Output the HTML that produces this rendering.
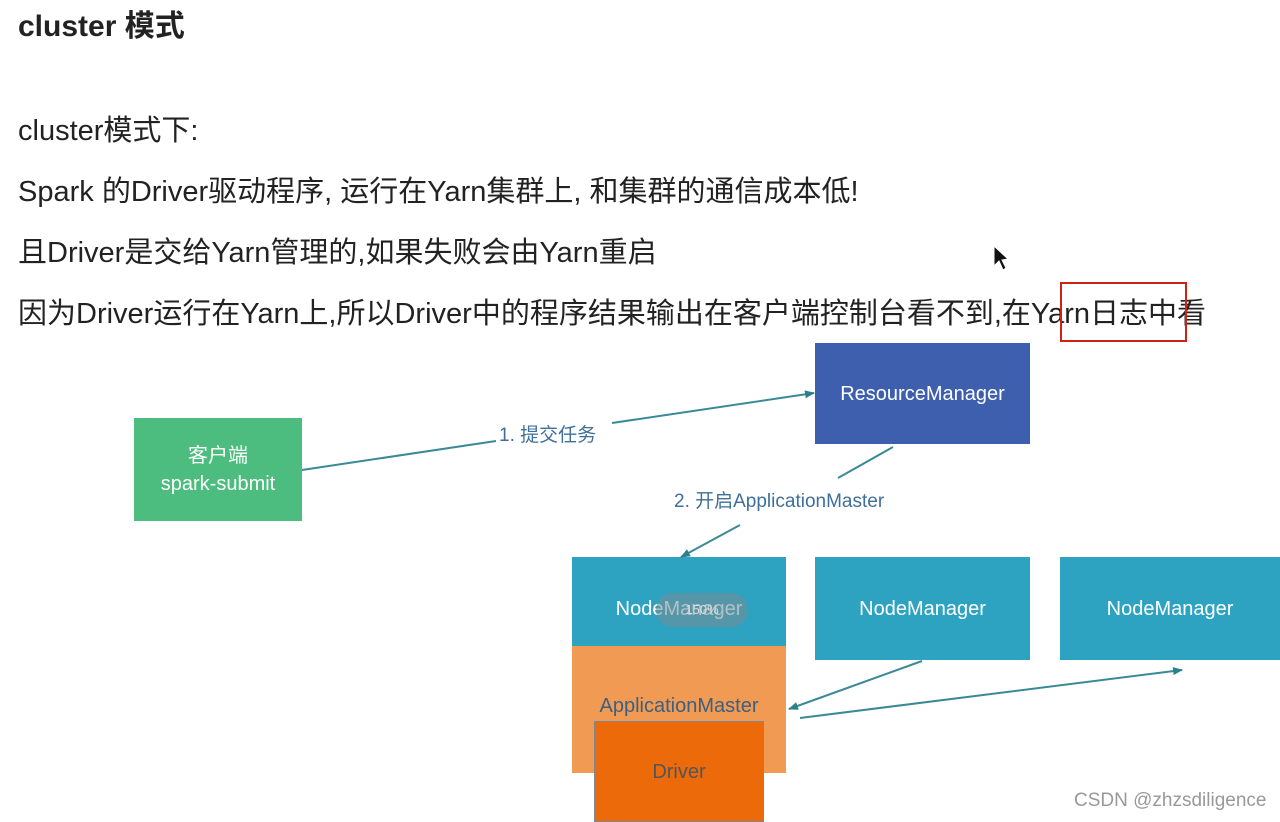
<!DOCTYPE html>
<html><head><meta charset="utf-8"><style>
html,body{margin:0;padding:0;background:#fff;}
body{width:1280px;height:822px;position:relative;overflow:hidden;font-family:"Liberation Sans","Noto Sans CJK SC",sans-serif;color:#222;}
.t{position:absolute;left:18px;white-space:nowrap;font-size:29px;line-height:34px;}
.b{position:absolute;display:flex;align-items:center;justify-content:center;text-align:center;color:#fff;font-size:20px;line-height:28px;}
.lbl{position:absolute;color:#3f6f9a;font-size:19px;white-space:nowrap;}
</style></head><body>
<div class="t" style="top:10px;font-weight:bold;font-size:30px;">cluster 模式</div>
<div class="t" style="top:114px;">cluster模式下:</div>
<div class="t" style="top:175px;">Spark 的Driver驱动程序, 运行在Yarn集群上, 和集群的通信成本低!</div>
<div class="t" style="top:236px;">且Driver是交给Yarn管理的,如果失败会由Yarn重启</div>
<div class="t" style="top:297px;">因为Driver运行在Yarn上,所以Driver中的程序结果输出在客户端控制台看不到,在Yarn日志中看</div>
<div style="position:absolute;left:1060px;top:282px;width:123px;height:56px;border:2px solid #d0201a;"></div>

<div class="b" style="left:134px;top:418px;width:168px;height:103px;background:#4cbd7e;">客户端<br>spark-submit</div>
<div class="b" style="left:815px;top:343px;width:215px;height:101px;background:#3e5fae;">ResourceManager</div>
<div class="b" style="left:572px;top:557px;width:214px;height:103px;background:#2ea3c1;">NodeManager</div>
<div style="position:absolute;left:656px;top:593px;width:92px;height:34px;border-radius:17px;background:rgba(120,140,150,0.55);color:#ddd;font-size:13px;line-height:34px;text-align:center;">150%</div>
<div class="b" style="left:815px;top:557px;width:215px;height:103px;background:#2ea3c1;">NodeManager</div>
<div class="b" style="left:1060px;top:557px;width:220px;height:103px;background:#2ea3c1;">NodeManager</div>
<div class="b" style="left:572px;top:646px;width:214px;height:127px;background:#f09a53;color:#3d5f80;align-items:flex-start;padding-top:0;"><span style="margin-top:46px">ApplicationMaster</span></div>
<div class="b" style="left:594px;top:721px;width:170px;height:101px;background:#ec6a0a;color:#555;border:1px solid #7a8a90;box-sizing:border-box;">Driver</div>

<svg width="1280" height="822" style="position:absolute;left:0;top:0" xmlns="http://www.w3.org/2000/svg">
<defs><marker id="a" markerWidth="10" markerHeight="8" refX="9" refY="4" orient="auto" markerUnits="userSpaceOnUse"><path d="M0,0 L10,4 L0,8 z" fill="#2d7f8a"/></marker></defs>
<g stroke="#3a8a96" stroke-width="2" fill="none">
<line x1="302" y1="470" x2="496" y2="441"/>
<line x1="612" y1="423" x2="814" y2="393" marker-end="url(#a)"/>
<line x1="893" y1="447" x2="838" y2="478"/>
<line x1="740" y1="525" x2="681" y2="557" marker-end="url(#a)"/>
<line x1="922" y1="661" x2="789" y2="709" marker-end="url(#a)"/>
<line x1="800" y1="718" x2="1182" y2="670" marker-end="url(#a)"/>
</g>
<path d="M994,246 L994,266 L999,261 L1003,270 L1006,268 L1002,260 L1008,259 Z" fill="#111" stroke="#fff" stroke-width="1"/>
</svg>
<div class="lbl" style="left:499px;top:420px;">1. 提交任务</div>
<div class="lbl" style="left:674px;top:486px;">2. 开启ApplicationMaster</div>
<div style="position:absolute;left:1074px;top:790px;font-size:19px;color:#999;">CSDN @zhzsdiligence</div>
</body></html>
